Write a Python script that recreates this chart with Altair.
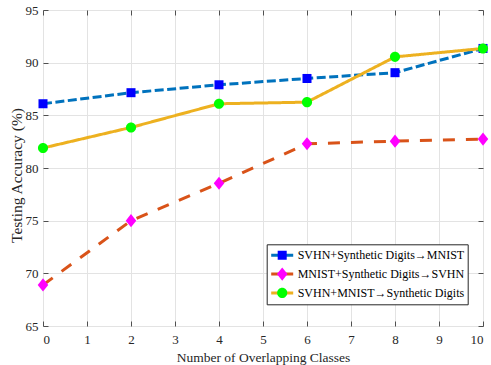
import altair as alt
import pandas as pd

# Number of overlapping classes (x) and testing accuracy (%) per setting
overlap = [0, 2, 4, 6, 8, 10]
svhn_synth_to_mnist = [86.1, 87.15, 87.9, 88.5, 89.05, 91.35]
mnist_synth_to_svhn = [68.9, 75.0, 78.55, 82.3, 82.55, 82.75]
svhn_mnist_to_synth = [81.9, 83.85, 86.1, 86.25, 90.55, 91.35]

series_names = [
    "SVHN+Synthetic Digits\u2192MNIST",
    "MNIST+Synthetic Digits\u2192SVHN",
    "SVHN+MNIST\u2192Synthetic Digits",
]
series_ids = [0, 1, 2]
x_ticks = list(range(0, 11))
y_ticks = [65, 70, 75, 80, 85, 90, 95]

line_colors = ["#0072BD", "#D95319", "#EDB120"]
marker_colors = ["#0000FF", "#FF00FF", "#00FF00"]
line_dashes = [[9, 3.5], [12, 11], [1, 0]]
# marker outlines in unit space (scaled by sqrt(size)/2)
marker_paths = [
    "M-0.41,-0.41L0.41,-0.41L0.41,0.41L-0.41,0.41Z",
    "M0,-0.6L0.48,0L0,0.6L-0.48,0Z",
    "M0.46,0A0.46,0.46,0,1,1,-0.46,0A0.46,0.46,0,1,1,0.46,0Z",
]

rows = []
for sid, name, vals in zip(series_ids, series_names,
                           [svhn_synth_to_mnist, mnist_synth_to_svhn, svhn_mnist_to_synth]):
    for xv, yv in zip(overlap, vals):
        rows.append({"overlap": xv, "acc": yv, "series": name, "series_id": sid})
df = pd.DataFrame(rows)

FONT = "Liberation Serif"
AX = "#505050"

x_scale = alt.Scale(domain=[0, 10], nice=False)
y_scale = alt.Scale(domain=[65, 95], nice=False)

# both legends share one box layout: line samples + labels, then markers on top
legend_common = dict(
    orient="none",
    legendX=223.7,
    legendY=234.3,
    padding=3,
    title=None,
    symbolSize=484,
    symbolStrokeWidth=3,
    clipHeight=16,
    rowPadding=2.8,
    labelOffset=3,
    labelFont=FONT,
    labelFontSize=12,
    labelLimit=400,
)

lines = alt.Chart(df).mark_line(strokeWidth=3).encode(
    x=alt.X(
        "overlap:Q",
        scale=x_scale,
        axis=alt.Axis(
            orient="bottom", values=x_ticks, offset=-5, tickSize=5, tickColor=AX,
            domain=False, grid=True, gridColor="#e3e3e3", labelPadding=7,
            labelFont=FONT, labelFontSize=13, labelColor="#262626",
            title="Number of Overlapping Classes", titleFont=FONT, titleFontSize=13.5,
            titleFontWeight="normal", titleColor="#262626", titleY=40,
            titleBaseline="alphabetic",
        ),
    ),
    y=alt.Y(
        "acc:Q",
        scale=y_scale,
        axis=alt.Axis(
            orient="left", values=y_ticks, offset=-5, tickSize=5, tickColor=AX,
            domain=False, grid=True, gridColor="#e3e3e3", labelPadding=5,
            labelFont=FONT, labelFontSize=13, labelColor="#262626",
            title="Testing Accuracy (%)", titleFont=FONT, titleFontSize=15.5,
            titleFontWeight="normal", titleColor="#262626", titleAngle=270,
            titleAlign="center", titleBaseline="alphabetic", titleX=-27, titleY=165,
        ),
    ),
    color=alt.Color(
        "series:N",
        sort=series_names,
        scale=alt.Scale(domain=series_names, range=line_colors),
        legend=alt.Legend(
            symbolType="stroke", fillColor="white", strokeColor="#262626",
            labelColor="#000000",
            labelExpr="datum.label + '\u00a0\u00a0'",
            **legend_common,
        ),
    ),
    strokeDash=alt.StrokeDash(
        "series:N",
        sort=series_names,
        scale=alt.Scale(range=line_dashes),
        legend=None,
    ),
    order=alt.Order("overlap:Q"),
)

# marker symbols only, drawn over the line samples of the legend above
marker_legend = alt.Legend(
    labelExpr="''",
    symbolStrokeColor="transparent",
    **legend_common,
)

points = alt.Chart(df).mark_point(filled=True, size=484, opacity=1).encode(
    x=alt.X(
        "overlap:Q",
        scale=x_scale,
        axis=alt.Axis(
            orient="top", values=x_ticks, offset=-5, tickSize=5, tickColor=AX,
            domain=False, grid=False, labels=False, title=None,
        ),
    ),
    y=alt.Y(
        "acc:Q",
        scale=y_scale,
        axis=alt.Axis(
            orient="right", values=y_ticks, offset=-5, tickSize=5, tickColor=AX,
            domain=False, grid=False, labels=False, title=None,
        ),
    ),
    fill=alt.Fill(
        "series_id:N",
        scale=alt.Scale(domain=series_ids, range=marker_colors),
        legend=marker_legend,
    ),
    shape=alt.Shape(
        "series_id:N",
        scale=alt.Scale(domain=series_ids, range=marker_paths),
        legend=marker_legend,
    ),
)

chart = (
    alt.layer(lines, points)
    .resolve_axis(x="independent", y="independent")
    .properties(
        width=440,
        height=316,
        padding={"left": 43, "top": 10, "right": 8, "bottom": 39},
        autosize=alt.AutoSizeParams(type="none"),
    )
    .configure_view(stroke="#404040", strokeWidth=1.2)
    .configure(background="white")
)

chart.save("out.html", embed_options={"renderer": "svg", "actions": False})
